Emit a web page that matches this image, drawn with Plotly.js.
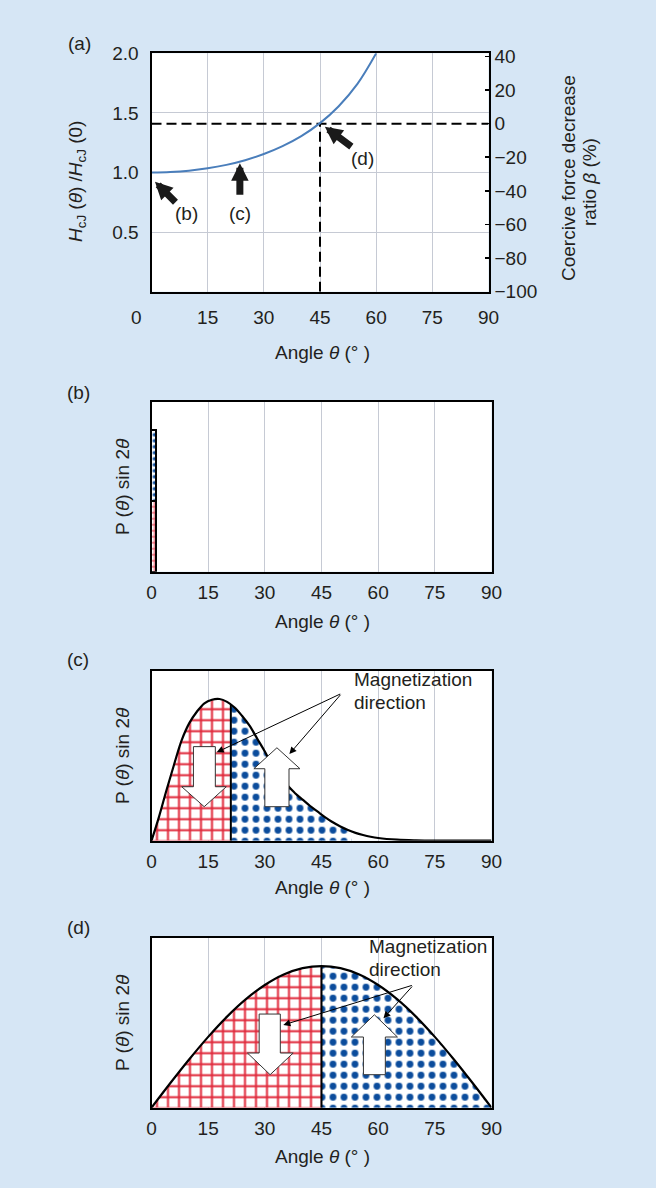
<!DOCTYPE html>
<html><head><meta charset="utf-8">
<script src="https://cdn.plot.ly/plotly-3.0.1.min.js"></script>
<style>html,body{margin:0;padding:0;background:#d6e6f5;}#chart{width:656px;height:1188px;}</style>
</head><body><div id="chart"></div>
<script>
// ---------- data ----------
// Panel (a): coercivity ratio vs angle
const angleA = [0, 5, 10, 15, 20, 25, 30, 35, 40, 45, 50, 55, 60];
const hcjRatio = [1.0, 1.004, 1.015, 1.035, 1.064, 1.103, 1.155, 1.221, 1.305, 1.414, 1.556, 1.743, 2.0];
const crossAngle = 45;
const crossRatio = 1.41;
const ratioTicks = [0.5, 1.0, 1.5, 2.0];
const ratioTickText = ['0.5', '1.0', '1.5', '2.0'];
const betaTicks = [-100, -80, -60, -40, -20, 0, 20, 40];
const angleTicks = [0, 15, 30, 45, 60, 75, 90];
// Panel (b): very narrow distribution
const angleB = [0.6];
const pBLower = [0.5];
const pBUpper = [0.5];
// Panel (c)
const angleC = [0,2,4,6,8,10,12,14,16,18,20,22,24,26,28,30,32,34,36,38,40,42,44,46,48,50,52,54,56,58,60,65,70,75,80,85,90];
const pC = [0,0.17,0.36,0.54,0.71,0.83,0.91,0.97,0.995,1.0,0.98,0.94,0.88,0.81,0.72,0.63,0.53,0.45,0.39,0.335,0.29,0.245,0.205,0.165,0.13,0.10,0.075,0.055,0.04,0.028,0.019,0.007,0.002,0,0,0,0];
const splitC = 21;
const dotEndC = 53;
// Panel (d)
const angleD = [0,5,10,15,20,25,30,35,40,45,50,55,60,65,70,75,80,85,90];
const pD = [0,0.174,0.342,0.5,0.643,0.766,0.866,0.94,0.985,1.0,0.985,0.94,0.866,0.766,0.643,0.5,0.342,0.174,0];
const splitD = 45;

// ---------- helpers ----------
const W = 656, H = 1188;
const FONT = 'Liberation Sans, Arial, sans-serif';
const TXT = '#231f20';
const RED = '#e0283a', BLUE = '#0b4c9c', GRID = '#c6cad4';
function interp(xs, ys, x) {
  for (let i = 0; i < xs.length - 1; i++) {
    if (x >= xs[i] && x <= xs[i + 1]) { const t = (x - xs[i]) / (xs[i + 1] - xs[i]); return ys[i] + t * (ys[i + 1] - ys[i]); }
  }
  return ys[ys.length - 1];
}
function segment(xs, ys, x0, x1) {
  const ox = [x0], oy = [interp(xs, ys, x0)];
  xs.forEach((x, i) => { if (x > x0 && x < x1) { ox.push(x); oy.push(ys[i]); } });
  ox.push(x1); oy.push(interp(xs, ys, x1));
  return { x: ox, y: oy };
}
const px = v => v / W, py = v => 1 - v / H;
function txt(text, x, y, opts) {
  return Object.assign({ text: text, xref: 'paper', yref: 'paper', x: px(x), y: py(y), showarrow: false,
    xanchor: 'center', yanchor: 'middle', font: { family: FONT, size: 19, color: TXT } }, opts || {});
}

const redPattern = { shape: '+', fgcolor: RED, bgcolor: 'white', size: 11, solidity: 0.33 };
const bluePattern = { shape: '.', fgcolor: BLUE, bgcolor: 'white', size: 11, solidity: 0.3 };

const traces = [];
// (a)
traces.push({ x: [0, 90], y: [crossRatio, crossRatio], xaxis: 'x', yaxis: 'y', mode: 'lines', line: { color: '#000', width: 2, dash: '10px,5px' }, hoverinfo: 'skip' });
traces.push({ x: [crossAngle, crossAngle], y: [0, crossRatio], xaxis: 'x', yaxis: 'y', mode: 'lines', line: { color: '#000', width: 2, dash: '10px,5px' }, hoverinfo: 'skip' });
traces.push({ x: angleA, y: hcjRatio, xaxis: 'x', yaxis: 'y', mode: 'lines', line: { color: '#4a7ebb', width: 2, shape: 'spline' } });
traces.push({ x: [0], y: [0], xaxis: 'x', yaxis: 'y2', mode: 'markers', marker: { opacity: 0 }, hoverinfo: 'skip' });
// (b)
traces.push({ type: 'bar', x: angleB, y: pBLower, width: 1.2, xaxis: 'x2', yaxis: 'y3',
  marker: { color: 'white', pattern: { shape: '+', fgcolor: RED, bgcolor: 'white', size: 6, solidity: 0.3 }, line: { color: '#000', width: 1.5 } } });
traces.push({ type: 'bar', x: angleB, y: pBUpper, width: 1.2, xaxis: 'x2', yaxis: 'y3',
  marker: { color: 'white', pattern: { shape: '.', fgcolor: BLUE, bgcolor: 'white', size: 6, solidity: 0.3 }, line: { color: '#000', width: 1.5 } } });
// (c)
const cL = segment(angleC, pC, 0, splitC), cR = segment(angleC, pC, splitC, dotEndC);
traces.push({ x: cL.x, y: cL.y, xaxis: 'x3', yaxis: 'y4', mode: 'lines', fill: 'tozeroy', line: { width: 0, shape: 'spline' }, fillcolor: 'white', fillpattern: redPattern, hoverinfo: 'skip' });
traces.push({ x: cR.x, y: cR.y, xaxis: 'x3', yaxis: 'y4', mode: 'lines', fill: 'tozeroy', line: { width: 0, shape: 'spline' }, fillcolor: 'white', fillpattern: bluePattern, hoverinfo: 'skip' });
traces.push({ x: [splitC, splitC], y: [0, interp(angleC, pC, splitC)], xaxis: 'x3', yaxis: 'y4', mode: 'lines', line: { color: '#000', width: 2 }, hoverinfo: 'skip' });
traces.push({ x: angleC, y: pC, xaxis: 'x3', yaxis: 'y4', mode: 'lines', line: { color: '#000', width: 2.2, shape: 'spline' } });
// (d)
const dL = segment(angleD, pD, 0, splitD), dR = segment(angleD, pD, splitD, 90);
traces.push({ x: dL.x, y: dL.y, xaxis: 'x4', yaxis: 'y5', mode: 'lines', fill: 'tozeroy', line: { width: 0, shape: 'spline' }, fillcolor: 'white', fillpattern: redPattern, hoverinfo: 'skip' });
traces.push({ x: dR.x, y: dR.y, xaxis: 'x4', yaxis: 'y5', mode: 'lines', fill: 'tozeroy', line: { width: 0, shape: 'spline' }, fillcolor: 'white', fillpattern: bluePattern, hoverinfo: 'skip' });
traces.push({ x: [splitD, splitD], y: [0, interp(angleD, pD, splitD)], xaxis: 'x4', yaxis: 'y5', mode: 'lines', line: { color: '#000', width: 2 }, hoverinfo: 'skip' });
traces.push({ x: angleD, y: pD, xaxis: 'x4', yaxis: 'y5', mode: 'lines', line: { color: '#000', width: 2.2, shape: 'spline' } });

// ---------- axes ----------
const xdomA = [151.5 / W, 488.5 / W], xdomB = [151.5 / W, 491.5 / W];
const ydomA = [1 - 291.7 / H, 1 - 53.3 / H];
const ydomB = [1 - 571.7 / H, 1 - 401.7 / H];
const ydomC = [1 - 840.7 / H, 1 - 670.7 / H];
const ydomD = [1 - 1107.7 / H, 1 - 937.7 / H];
const tickFont = { family: FONT, size: 19, color: TXT };
function xax(dom, anchor, standoff, vals) {
  return { domain: dom, anchor: anchor, range: [0, 90], tickvals: vals || angleTicks, ticks: '', showgrid: true, gridcolor: GRID, gridwidth: 1,
    zeroline: false, showline: true, mirror: true, linecolor: '#000', linewidth: 2, tickfont: tickFont, ticklabelstandoff: standoff, fixedrange: true };
}
function yax(dom, anchor) {
  return { domain: dom, anchor: anchor, range: [0, 1.2], showticklabels: false, ticks: '', showgrid: false, zeroline: false,
    showline: true, mirror: true, linecolor: '#000', linewidth: 2 };
}
const thick = { text: '', showarrow: true, arrowhead: 2, arrowsize: 0.5, arrowwidth: 7, arrowcolor: '#1a1a1a' };
const thin = { text: '', showarrow: true, arrowhead: 2, arrowsize: 1.4, arrowwidth: 1, arrowcolor: '#000' };

const annotations = [
  // panel labels
  txt('(a)', 79, 44), txt('(b)', 78, 392), txt('(c)', 78, 659), txt('(d)', 78, 927),
  // (a) texts
  txt('0', 136, 317),
  txt('<i>H</i><sub>cJ</sub> (<i>θ</i>) /<i>H</i><sub>cJ</sub> (0)', 77, 182, { textangle: -90 }),
  txt('Coercive force decrease', 568, 178, { textangle: -90 }),
  txt('ratio <i>β</i> (%)', 589, 182, { textangle: -90 }),
  txt('Angle <i>θ</i> (° )', 322, 352),
  txt('(b)', 187, 213), txt('(c)', 240, 213), txt('(d)', 362, 158),
  // thick arrows in (a)
  Object.assign({ xref: 'x', yref: 'y', x: 0.93, y: 0.923, ax: 22, ay: 22 }, thick),
  Object.assign({ xref: 'x', yref: 'y', x: 23.6, y: 1.077, ax: 0, ay: 33 }, thick),
  Object.assign({ xref: 'x', yref: 'y', x: 46.3, y: 1.384, ax: 28, ay: 21 }, thick),
  // (b)
  txt('P (<i>θ</i>) sin 2<i>θ</i>', 122, 487, { textangle: -90 }),
  txt('Angle <i>θ</i> (° )', 322, 621),
  // (c)
  txt('P (<i>θ</i>) sin 2<i>θ</i>', 122, 756, { textangle: -90 }),
  txt('Angle <i>θ</i> (° )', 322, 887),
  txt('Magnetization', 353, 691, { xanchor: 'left', yanchor: 'bottom', borderpad: 0 }),
  txt('direction', 353, 691, { xanchor: 'left', yanchor: 'top', borderpad: 0 }),
  Object.assign({ xref: 'x3', yref: 'y4', x: 17.26, y: 0.624, ax: 125, ay: -59 }, thin),
  Object.assign({ xref: 'x3', yref: 'y4', x: 36.5, y: 0.612, ax: 52.4, ay: -60.7 }, thin),
  // (d)
  txt('P (<i>θ</i>) sin 2<i>θ</i>', 122, 1023, { textangle: -90 }),
  txt('Angle <i>θ</i> (° )', 322, 1156),
  txt('Magnetization', 368, 958, { xanchor: 'left', yanchor: 'bottom', borderpad: 0 }),
  txt('direction', 368, 958, { xanchor: 'left', yanchor: 'top', borderpad: 0 }),
  Object.assign({ xref: 'x4', yref: 'y5', x: 34.9, y: 0.584, ax: 130, ay: -40 }, thin),
  Object.assign({ xref: 'x4', yref: 'y5', x: 61.4, y: 0.631, ax: 30, ay: -33.3 }, thin)
];

function poly(pts, xref, yref) {
  return { type: 'path', xref: xref, yref: yref, path: 'M' + pts.map(p => p[0] + ',' + p[1]).join('L') + 'Z',
    fillcolor: 'white', line: { color: '#333', width: 1 }, layer: 'above' };
}
const shapes = [
  poly([[11.1,0.664],[16.9,0.664],[16.9,0.381],[19.8,0.381],[13.95,0.24],[8.0,0.381],[11.1,0.381]], 'x3', 'y4'),
  poly([[33.2,0.656],[39.3,0.508],[36.4,0.508],[36.4,0.24],[30.0,0.24],[30.0,0.508],[27.1,0.508]], 'x3', 'y4'),
  poly([[28.5,0.661],[34.1,0.661],[34.1,0.386],[37.5,0.386],[31.4,0.233],[25.4,0.386],[28.5,0.386]], 'x4', 'y5'),
  poly([[59,0.656],[65.1,0.499],[61.9,0.499],[61.9,0.233],[56.1,0.233],[56.1,0.499],[52.9,0.499]], 'x4', 'y5')
];

const layout = {
  width: W, height: H, margin: { l: 0, r: 0, t: 0, b: 0 },
  paper_bgcolor: '#d6e6f5', plot_bgcolor: 'white', showlegend: false, barmode: 'stack', bargap: 0,
  font: { family: FONT, size: 19, color: TXT },
  xaxis: xax(xdomA, 'y', 7, [15, 30, 45, 60, 75, 90]),
  yaxis: { domain: ydomA, anchor: 'x', range: [0, 2], tickvals: ratioTicks, ticktext: ratioTickText, ticks: '', showgrid: true, gridcolor: GRID,
    zeroline: false, showline: true, mirror: true, linecolor: '#000', linewidth: 2, tickfont: tickFont, ticklabelstandoff: 7 },
  yaxis2: { overlaying: 'y', side: 'right', anchor: 'x', range: [-100, -100 + 100 / (crossRatio / 2)], tickvals: betaTicks, ticks: 'inside',
    ticklen: 4, tickwidth: 1.5, tickcolor: '#000', showgrid: false, zeroline: false, showline: false, tickfont: tickFont, ticklabelstandoff: 5 },
  xaxis2: xax(xdomB, 'y3', 2),
  yaxis3: yax(ydomB, 'x2'),
  xaxis3: xax(xdomB, 'y4', 2),
  yaxis4: yax(ydomC, 'x3'),
  xaxis4: xax(xdomB, 'y5', 2),
  yaxis5: yax(ydomD, 'x4'),
  annotations: annotations,
  shapes: shapes
};
Plotly.newPlot('chart', traces, layout, { displayModeBar: false, staticPlot: true });
</script></body></html>
